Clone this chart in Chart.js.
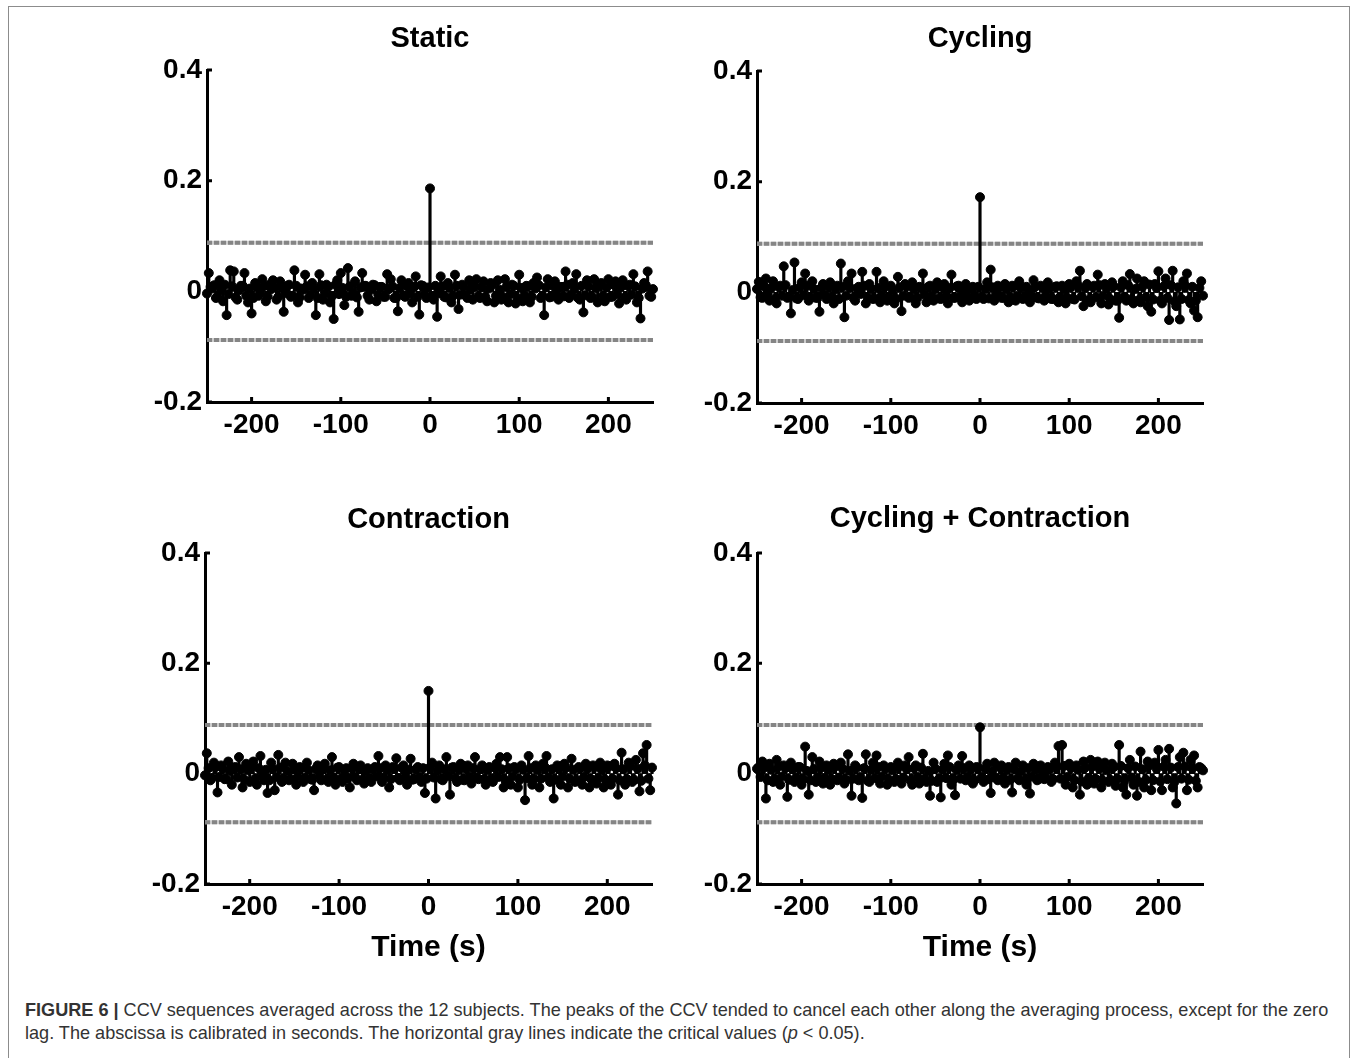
<!DOCTYPE html>
<html>
<head>
<meta charset="utf-8">
<script src="https://cdn.jsdelivr.net/npm/chart.js@4.4.1/dist/chart.umd.min.js"></script>
<style>
  body { margin: 0; background: #fff; }
  #fig { position: relative; width: 1356px; height: 1058px; overflow: hidden; font-family: "Liberation Sans", Arial, sans-serif; }
  #frame { position: absolute; left: 8px; top: 6px; width: 1342px; height: 1100px; border: 1px solid #8c8c8c; box-sizing: border-box; }
  canvas { position: absolute; }
  #caption { position: absolute; left: 25px; top: 999px; font-size: 18.1px; line-height: 23px; color: #333; white-space: nowrap; }
</style>
</head>
<body>
<div id="fig">
  <div id="frame"></div>
  <canvas id="c1"></canvas>
  <canvas id="c2"></canvas>
  <canvas id="c3"></canvas>
  <canvas id="c4"></canvas>
  <div id="caption"><b>FIGURE 6 |</b> CCV sequences averaged across the 12 subjects. The peaks of the CCV tended to cancel each other along the averaging process, except for the zero<br>lag. The abscissa is calibrated in seconds. The horizontal gray lines indicate the critical values (<i>p</i> &lt; 0.05).</div>
</div>
<script>
// lags (s): main samples every 4 s from -248 to 248, in-between samples from -250 to 250
const lags = [];
for (let t = -248; t <= 248; t += 4) lags.push(t);
const lagsMid = [];
for (let t = -250; t <= 250; t += 4) lagsMid.push(t);

const xTicks = [-200, -100, 0, 100, 200];
const yTicks = [-0.2, 0, 0.2, 0.4];
const critical = 0.088; // p < 0.05

const staticCcv = [
  0.033, 0.005, -0.012, 0.02, -0.018, -0.043, 0.038, 0.036, -0.015, 0.01,
  0.033, -0.02, -0.04, 0.015, -0.008, 0.022, -0.018, 0.012, 0.02, -0.015,
  0.018, -0.037, 0.01, -0.01, 0.038, -0.02, 0.005, 0.03, -0.012, 0.015,
  -0.043, 0.031, -0.015, 0.012, -0.02, -0.05, 0.02, 0.033, -0.025, 0.042,
  -0.008, 0.018, -0.037, 0.033, 0.01, -0.015, 0.012, -0.018, 0.008, -0.01,
  0.031, 0.022, -0.012, -0.036, 0.02, -0.01, 0.015, -0.02, 0.027, -0.042,
  0.01, -0.012, 0.186, -0.015, -0.046, 0.027, -0.01, 0.015, -0.02, 0.03,
  -0.032, 0.012, -0.008, 0.02, -0.015, 0.022, -0.012, 0.018, -0.018, 0.015,
  -0.02, 0.02, -0.015, 0.022, -0.02, 0.012, -0.022, 0.03, -0.018, 0.01,
  -0.02, 0.015, 0.025, -0.012, -0.043, 0.022, -0.01, 0.018, -0.015, 0.008,
  0.036, -0.012, 0.015, 0.031, -0.015, -0.038, 0.02, -0.012, 0.022, -0.02,
  0.015, -0.018, 0.022, -0.01, 0.018, -0.022, 0.02, -0.015, 0.012, 0.031,
  -0.02, -0.049, 0.015, 0.036, -0.01
];
const staticCcvMid = [
  -0.004, 0.008, 0.011, -0.01, 0.003, 0.012, -0.005, 0.009, -0.011, 0.002,
  0.01, -0.008, 0.005, -0.012, 0.008, -0.003, 0.01, -0.009, 0.004, 0.007,
  -0.01, 0.006, -0.003, 0.012, -0.008, 0.01, -0.011, 0.003, 0.009, -0.006,
  0.005, -0.012, 0.011, -0.004, 0.008, -0.009, 0.012, -0.005, 0.006, -0.01,
  0.009, -0.003, -0.011, 0.007, 0.01, -0.008, 0.003, 0.011, -0.006, 0.008,
  -0.01, 0.004, 0.009, -0.012, 0.006, -0.007, 0.01, -0.004, 0.008, -0.01,
  0.011, -0.005, 0.007, -0.009, 0.01, -0.003, 0.009, -0.011, 0.006, -0.008,
  0.01, -0.006, 0.008, -0.012, 0.004, 0.011, -0.009, 0.007, -0.01, 0.005,
  0.012, -0.008, 0.003, -0.011, 0.009, -0.005, 0.01, -0.012, 0.006, -0.007,
  0.009, -0.01, 0.005, 0.011, -0.008, 0.007, -0.011, 0.01, -0.004, 0.008,
  -0.009, 0.012, -0.006, 0.004, -0.012, 0.01, -0.007, 0.009, -0.01, 0.006,
  0.011, -0.008, 0.007, -0.01, 0.012, -0.005, 0.008, -0.011, 0.01, -0.006,
  0.009, -0.012, 0.005, 0.011, -0.008, 0.004
];

const cyclingCcv = [
  0.019, -0.01, 0.025, -0.015, 0.02, -0.02, 0.012, 0.047, -0.01, -0.038,
  0.054, -0.012, 0.018, 0.034, -0.015, 0.02, -0.01, -0.035, 0.015, -0.012,
  0.018, -0.02, 0.012, 0.052, -0.045, 0.02, 0.034, -0.015, 0.01, 0.037,
  -0.02, 0.015, -0.012, 0.037, -0.018, 0.02, -0.015, 0.012, -0.02, 0.028,
  -0.034, 0.015, -0.01, 0.018, -0.02, 0.01, 0.034, -0.018, 0.012, -0.015,
  0.018, -0.012, 0.015, -0.02, 0.032, -0.01, 0.012, -0.018, 0.015, -0.015,
  0.01, -0.012, 0.172, -0.012, 0.018, 0.041, -0.015, 0.012, -0.01, 0.015,
  -0.018, 0.012, -0.015, 0.02, -0.012, 0.01, -0.018, 0.022, -0.01, 0.012,
  -0.015, 0.018, -0.012, 0.01, -0.018, 0.012, -0.02, 0.015, -0.012, 0.02,
  0.039, -0.025, 0.015, -0.018, 0.012, 0.032, -0.02, 0.015, -0.022, 0.018,
  -0.015, -0.046, 0.02, -0.015, 0.033, -0.02, 0.025, -0.018, 0.02, -0.025,
  -0.035, 0.015, 0.038, -0.02, 0.025, -0.05, 0.039, -0.025, -0.049, 0.02,
  0.034, -0.02, -0.033, -0.045, 0.02
];
const cyclingCcvMid = [
  0.006, -0.009, 0.011, -0.003, 0.008, -0.012, 0.01, -0.006, 0.013, -0.008,
  0.004, -0.011, 0.009, -0.005, 0.012, -0.009, 0.006, -0.01, 0.008, -0.004,
  0.011, -0.008, 0.005, -0.012, 0.01, -0.006, 0.009, -0.01, 0.007, -0.003,
  0.012, -0.009, 0.006, -0.011, 0.008, -0.005, 0.01, -0.008, 0.004, -0.012,
  0.009, -0.006, 0.011, -0.009, 0.005, -0.01, 0.008, -0.004, 0.01, -0.007,
  0.006, -0.011, 0.009, -0.005, 0.008, -0.01, 0.011, -0.007, 0.004, -0.009,
  0.007, -0.005, 0.01, -0.008, 0.006, -0.011, 0.009, -0.004, 0.008, -0.01,
  0.005, -0.009, 0.011, -0.006, 0.008, -0.01, 0.004, -0.007, 0.01, -0.011,
  0.009, -0.005, 0.007, -0.012, 0.011, -0.008, 0.006, -0.01, 0.009, -0.013,
  0.012, -0.007, 0.008, -0.014, 0.01, -0.009, 0.013, -0.006, 0.007, -0.012,
  0.011, -0.015, 0.009, -0.008, 0.013, -0.012, 0.006, -0.014, 0.01, -0.009,
  0.014, -0.013, 0.008, -0.015, 0.011, -0.01, 0.013, -0.016, 0.009, -0.012,
  0.012, -0.014, 0.01, -0.015, 0.008, -0.006
];

const contractionCcv = [
  0.037, -0.012, 0.02, -0.034, 0.015, -0.01, 0.022, -0.02, 0.012, 0.03,
  -0.025, 0.018, -0.015, 0.022, -0.02, 0.032, -0.012, -0.035, 0.02, -0.03,
  0.034, -0.015, 0.02, -0.012, 0.018, -0.02, 0.012, -0.015, 0.02, -0.01,
  -0.03, 0.015, -0.012, 0.018, -0.015, 0.03, -0.02, 0.012, -0.015, 0.01,
  -0.025, 0.018, -0.012, 0.015, -0.018, 0.01, -0.015, 0.012, 0.032, -0.015,
  0.015, -0.025, 0.012, 0.028, -0.012, 0.015, -0.02, 0.027, -0.01, 0.012,
  -0.015, -0.035, 0.15, 0.02, -0.045, 0.015, -0.012, 0.03, -0.038, 0.012,
  -0.015, 0.018, -0.012, 0.015, -0.018, 0.03, -0.01, 0.015, -0.02, 0.012,
  -0.015, 0.018, 0.03, -0.025, 0.03, -0.02, 0.012, -0.025, 0.015, -0.048,
  0.032, -0.02, 0.015, -0.025, 0.018, 0.032, -0.015, -0.045, 0.015, -0.02,
  0.018, -0.025, 0.027, -0.015, 0.012, -0.02, 0.018, -0.025, 0.015, -0.018,
  0.02, -0.025, 0.015, -0.02, 0.018, -0.038, 0.038, -0.02, 0.02, -0.015,
  0.025, -0.032, 0.037, 0.052, -0.03
];
const contractionCcvMid = [
  -0.003, 0.01, -0.008, 0.012, -0.006, 0.009, -0.01, 0.005, 0.011, -0.007,
  0.008, -0.011, 0.006, 0.012, -0.009, 0.01, -0.004, 0.007, -0.012, 0.009,
  -0.006, 0.011, -0.009, 0.005, -0.01, 0.008, -0.005, 0.01, -0.008, 0.006,
  -0.011, 0.009, -0.004, 0.008, -0.01, 0.006, -0.007, 0.011, -0.009, 0.005,
  -0.008, 0.01, -0.006, 0.009, -0.011, 0.004, -0.009, 0.008, -0.005, 0.01,
  -0.007, 0.006, -0.01, 0.009, -0.008, 0.011, -0.005, 0.007, -0.011, 0.008,
  -0.006, 0.01, -0.009, 0.012, -0.007, 0.005, -0.01, 0.008, -0.004, 0.011,
  -0.008, 0.006, -0.011, 0.009, -0.005, 0.01, -0.007, 0.008, -0.01, 0.006,
  -0.009, 0.011, -0.006, 0.008, -0.012, 0.01, -0.005, 0.009, -0.011, 0.007,
  -0.008, 0.01, -0.01, 0.006, -0.009, 0.012, -0.007, 0.008, -0.011, 0.009,
  -0.005, 0.011, -0.009, 0.007, -0.012, 0.01, -0.006, 0.009, -0.01, 0.012,
  -0.008, 0.006, -0.011, 0.013, -0.009, 0.01, -0.012, 0.008, -0.01, 0.014,
  -0.011, 0.009, -0.013, 0.015, -0.009, 0.011
];

const cycContrCcv = [
  0.012, 0.022, -0.045, 0.018, -0.015, 0.025, -0.02, 0.015, -0.042, 0.02,
  -0.015, 0.012, -0.02, 0.049, -0.038, 0.03, -0.015, 0.022, -0.018, 0.015,
  -0.02, 0.018, -0.012, 0.02, -0.018, 0.035, -0.04, 0.015, -0.012, -0.044,
  0.035, -0.015, 0.02, 0.033, -0.018, 0.015, -0.02, 0.012, -0.015, 0.02,
  -0.018, 0.015, 0.03, -0.02, 0.015, -0.018, 0.036, -0.015, -0.04, 0.02,
  -0.015, -0.043, 0.018, 0.033, -0.02, -0.039, 0.015, 0.032, -0.012, 0.015,
  -0.018, 0.012, 0.084, -0.015, 0.018, -0.035, 0.02, -0.012, 0.015, -0.018,
  0.012, -0.034, 0.02, -0.012, 0.015, -0.02, -0.036, 0.018, -0.012, 0.015,
  -0.01, 0.012, -0.015, 0.02, 0.05, 0.052, -0.02, 0.018, -0.025, 0.015,
  -0.038, 0.022, -0.02, 0.025, -0.018, 0.022, -0.025, 0.02, -0.015, 0.018,
  -0.022, 0.052, -0.025, -0.038, 0.025, -0.02, -0.04, 0.04, -0.025, 0.022,
  -0.03, 0.02, 0.043, -0.03, 0.025, 0.045, -0.025, -0.054, 0.03, 0.038,
  -0.03, 0.025, 0.033, -0.025, 0.01
];
const cycContrCcvMid = [
  0.009, -0.006, 0.011, -0.012, 0.007, -0.009, 0.013, -0.005, 0.01, -0.011,
  0.008, -0.007, 0.012, -0.01, 0.005, -0.012, 0.009, -0.006, 0.011, -0.008,
  0.006, -0.01, 0.013, -0.007, 0.009, -0.012, 0.005, -0.009, 0.011, -0.006,
  0.01, -0.013, 0.007, -0.008, 0.012, -0.005, 0.009, -0.011, 0.006, -0.01,
  0.013, -0.007, 0.008, -0.012, 0.01, -0.006, 0.011, -0.009, 0.005, -0.013,
  0.009, -0.01, 0.007, -0.008, 0.012, -0.011, 0.006, -0.009, 0.01, -0.005,
  0.008, -0.012, 0.011, -0.006, 0.009, -0.01, 0.005, -0.008, 0.012, -0.007,
  0.006, -0.011, 0.009, -0.008, 0.004, -0.012, 0.01, -0.005, 0.007, -0.01,
  0.003, -0.007, 0.008, -0.01, 0.012, -0.009, 0.014, -0.006, 0.01, -0.012,
  0.007, -0.014, 0.011, -0.008, 0.013, -0.01, 0.009, -0.013, 0.006, -0.011,
  0.012, -0.009, 0.014, -0.013, 0.01, -0.007, 0.013, -0.015, 0.008, -0.011,
  0.015, -0.012, 0.009, -0.014, 0.013, -0.01, 0.011, -0.015, 0.012, -0.009,
  0.013, -0.011, 0.01, -0.013, 0.012, 0.006
];

Chart.defaults.font.family = '"Liberation Sans", Arial, sans-serif';
Chart.defaults.color = '#000';

// short tick marks pointing into the plot, like the original axes
const innerTicks = {
  id: 'innerTicks',
  afterDraw(chart) {
    const {ctx, chartArea, scales} = chart;
    ctx.save();
    ctx.strokeStyle = '#000';
    ctx.lineWidth = 3;
    ctx.beginPath();
    xTicks.forEach(v => {
      const px = scales.x.getPixelForValue(v);
      ctx.moveTo(px, chartArea.bottom);
      ctx.lineTo(px, chartArea.bottom - 5);
    });
    yTicks.forEach(v => {
      const py = scales.y.getPixelForValue(v);
      ctx.moveTo(chartArea.left, py);
      ctx.lineTo(chartArea.left + 5, py);
    });
    ctx.stroke();
    ctx.restore();
  }
};

function drawPanel(id, title, values, valuesMid, box, titleGap, withXTitle) {
  const canvas = document.getElementById(id);
  const yAxisW = 57, headH = 65, side = 10;
  const footH = withXTitle ? 82 : 60;
  canvas.width = yAxisW + box.w + 2 * side;
  canvas.height = headH + box.h + footH;
  canvas.style.left = (box.x - yAxisW - side) + 'px';
  canvas.style.top = (box.y - headH) + 'px';

  const titleLH = 29 * 1.2;
  const titlePad = headH - titleGap - titleLH / 2;

  const pts = lags.map((t, i) => ({x: t, y: values[i]}))
    .concat(lagsMid.map((t, i) => ({x: t, y: valuesMid[i]})));
  const hline = v => [{x: -250, y: v}, {x: 250, y: v}];
  const dashed = (v, color, dash, order) => ({
    type: 'line', data: hline(v), borderColor: color, borderWidth: 4,
    borderDash: dash, pointRadius: 0, clip: false, order: order
  });

  new Chart(canvas, {
    type: 'bar',
    data: {
      datasets: [
        dashed(critical, '#cdcdcd', [], 5),
        dashed(-critical, '#cdcdcd', [], 5),
        dashed(critical, '#858585', [5, 2], 4),
        dashed(-critical, '#858585', [5, 2], 4),
        {type: 'bar', data: pts, backgroundColor: '#000', barThickness: 2.5, borderWidth: 0, order: 2, clip: false},
        {type: 'line', data: pts, showLine: false, pointRadius: 4.5, pointBorderWidth: 1,
         pointBackgroundColor: '#000', pointBorderColor: '#000', order: 1, clip: false}
      ]
    },
    options: {
      responsive: false,
      animation: false,
      layout: {padding: {left: side, right: side, top: 0, bottom: 0}},
      plugins: {legend: {display: false}, tooltip: {enabled: false}},
      scales: {
        x: {
          type: 'linear', min: -250, max: 250, offset: false,
          afterBuildTicks: s => { s.ticks = xTicks.map(v => ({value: v})); },
          afterFit: s => { s.height = footH; },
          grid: {display: false, drawTicks: false},
          border: {display: true, color: '#000', width: 3},
          ticks: {padding: 6, font: {size: 28, weight: 'bold'}, color: '#000', callback: v => String(v), maxRotation: 0},
          title: {display: withXTitle, text: 'Time (s)', color: '#000', font: {size: 30, weight: 'bold'}, padding: 0}
        },
        // top axis only carries the panel title, centred over the plot
        xTop: {
          type: 'linear', position: 'top', min: -250, max: 250, offset: false,
          afterFit: s => { s.height = headH; },
          grid: {display: false, drawTicks: false},
          border: {display: false},
          ticks: {display: false},
          title: {display: true, text: title, color: '#000', font: {size: 29, weight: 'bold'},
                  padding: {top: titlePad, bottom: 0}}
        },
        y: {
          min: -0.2, max: 0.4,
          afterBuildTicks: s => { s.ticks = yTicks.map(v => ({value: v})); },
          afterFit: s => { s.width = yAxisW; },
          grid: {display: false, drawTicks: false},
          border: {display: true, color: '#000', width: 3},
          ticks: {padding: 5, font: {size: 28, weight: 'bold'}, color: '#000', callback: v => String(v)}
        }
      }
    },
    plugins: [innerTicks]
  });
}

drawPanel('c1', 'Static', staticCcv, staticCcvMid, {x: 207, y: 70, w: 446, h: 332}, 31, false);
drawPanel('c2', 'Cycling', cyclingCcv, cyclingCcvMid, {x: 757, y: 71, w: 446, h: 332}, 32, false);
drawPanel('c3', 'Contraction', contractionCcv, contractionCcvMid, {x: 205, y: 553, w: 447, h: 331}, 33, true);
drawPanel('c4', 'Cycling + Contraction', cycContrCcv, cycContrCcvMid, {x: 757, y: 553, w: 446, h: 331}, 34, true);
</script>
</body>
</html>
